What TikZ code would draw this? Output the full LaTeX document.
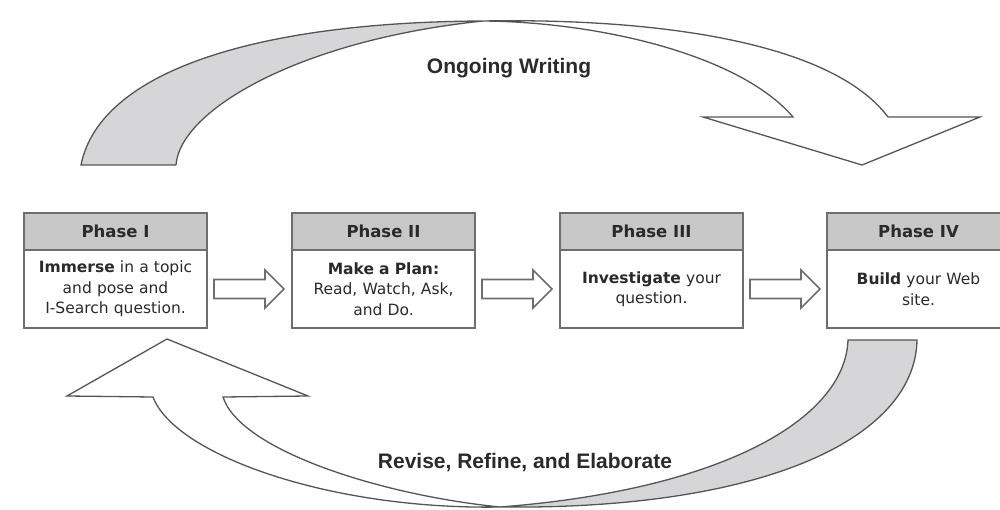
\documentclass[tikz,border=0pt]{standalone}
\usepackage{fontspec}
\setmainfont{DejaVu Sans}
\newfontfamily\tah{DejaVu Sans}
\newfontfamily\ari{Liberation Sans}
\usetikzlibrary{calc}
\definecolor{boxline}{HTML}{6E6E6E}
\definecolor{hdrfill}{HTML}{C8C8C8}
\definecolor{tailfill}{HTML}{D6D5D7}
\definecolor{curveline}{HTML}{555555}
\definecolor{txt}{HTML}{2A2A2A}
\tikzset{
  hdr/.style={draw=boxline, line width=1.8pt, fill=hdrfill, minimum width=183pt, minimum height=37pt,
    inner sep=0pt, outer sep=0pt, text=txt, font=\tah\bfseries\fontsize{16.5}{19}\selectfont},
  bodybox/.style={draw=boxline, line width=1.8pt, fill=white, minimum width=183pt, minimum height=78pt,
    inner sep=0pt, outer sep=0pt, text=txt, align=center, text width=175pt,
    font=\tah\fontsize{15.5}{20.5}\selectfont},
  ribbon/.style={draw=curveline, line width=1.3pt, line join=miter},
  lbl/.style={text=txt, font=\ari\bfseries\fontsize{21}{24}\selectfont},
  blockarrow/.pic={\draw[draw=boxline, line width=1.6pt, fill=white, line join=miter]
      (0,-9.5) -- (51,-9.5) -- (51,-19) -- (70,0) -- (51,19) -- (51,9.5) -- (0,9.5) -- cycle;}
}
\begin{document}
\begin{tikzpicture}[x=1pt,y=-1pt]
\useasboundingbox (0,0) rectangle (1000,510);
% top ribbon arrow
\coordinate (P) at (483,21);
\fill[tailfill] (81,165) .. controls (100,70) and (260,22) .. (P)
   .. controls (300,40) and (180,110) .. (176,165) -- cycle;
\draw[ribbon] (176,165) -- (81,165) .. controls (100,70) and (260,22) .. (P)
   .. controls (300,40) and (180,110) .. (176,165);
\draw[ribbon, fill=white] (P) .. controls (650,18) and (830,40) .. (888,117)
   -- (980,117) -- (862,165) -- (703,117) -- (793,117)
   .. controls (740,55) and (600,22) .. (P) -- cycle;
% bottom ribbon arrow
\coordinate (Q) at (500,507);
\draw[ribbon, fill=tailfill] (848,340) -- (917,340) .. controls (915,440) and (760,510) .. (Q)
   .. controls (720,490) and (845,420) .. (848,340) -- cycle;
\draw[ribbon, fill=white] (Q) .. controls (380,495) and (240,450) .. (223,397)
   -- (308,396) -- (167,339) -- (67,396) -- (153,397)
   .. controls (175,455) and (330,510) .. (Q) -- cycle;
% labels
\node[lbl] (ow) at (509,68) {Ongoing Writing};
\node[lbl] (rre) at (525,463) {Revise, Refine, and Elaborate};
% boxes
\node[hdr, anchor=north west] (h1) at (24,213) {Phase I};
\node[bodybox, anchor=north] (b1) at (h1.south) {\textbf{Immerse} in a topic\\ and pose and\\ I-Search question.};
\node[hdr, anchor=north west] (h2) at (292,213) {Phase II};
\node[bodybox, anchor=north] (b2) at (h2.south) {\textbf{Make a Plan:}\\ Read, Watch, Ask,\\ and Do.};
\node[hdr, anchor=north west] (h3) at (560,213) {Phase III};
\node[bodybox, anchor=north] (b3) at (h3.south) {\textbf{Investigate} your\\ question.};
\node[hdr, anchor=north west] (h4) at (827,213) {Phase IV};
\node[bodybox, anchor=north] (b4) at (h4.south) {\textbf{Build} your Web\\ site.};
% block arrows
\pic at ($(b1.east)+(7,0)$) {blockarrow};
\pic at ($(b2.east)+(7,0)$) {blockarrow};
\pic at ($(b3.east)+(7,0)$) {blockarrow};
\end{tikzpicture}
\end{document}
